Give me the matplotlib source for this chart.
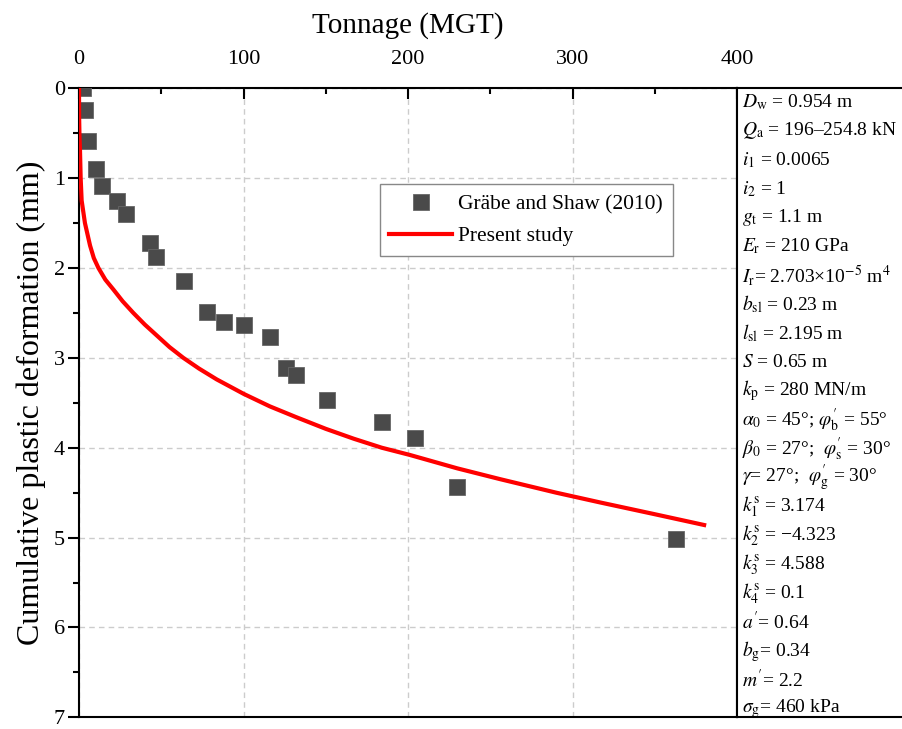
import matplotlib.pyplot as plt
from matplotlib.ticker import MultipleLocator

plt.rcParams['font.family'] = ['Liberation Serif', 'DejaVu Serif']
plt.rcParams['mathtext.fontset'] = 'stix'

# measured points (Gräbe and Shaw 2010)
test_x = [2.6, 3.6, 5.7, 10.3, 13.8, 22.9, 28.4, 43.2, 46.6, 64, 78, 88, 100, 116, 126, 132, 151, 184, 204, 230, 363]
test_y = [0.0, 0.24, 0.59, 0.9, 1.09, 1.25, 1.4, 1.72, 1.88, 2.15, 2.49, 2.6, 2.64, 2.77, 3.11, 3.19, 3.47, 3.71, 3.89, 4.44, 5.02]

# present study curve
model_x = [0, 0.05, 0.3, 0.6, 1.0, 1.6, 3.6, 6.7, 9, 11.8, 16, 20.9, 26.5, 33, 40, 47.2, 55, 63.4, 73, 83.7, 100,
           116, 132, 150, 167, 184, 201, 230, 256, 290, 317, 350, 380]
model_y = [0, 0.3, 0.55, 0.69, 1.0, 1.25, 1.5, 1.75, 1.89, 2.0, 2.13, 2.24, 2.37, 2.5, 2.63, 2.75, 2.88, 3.0, 3.12, 3.24, 3.40,
           3.54, 3.66, 3.79, 3.90, 4.0, 4.08, 4.23, 4.35, 4.50, 4.61, 4.74, 4.86]

params = [
    r'$D_\mathrm{w}$ = 0.954 m',
    r'$Q_\mathrm{a}$ = 196–254.8 kN',
    r'$i_1$ = 0.0065',
    r'$i_2$ = 1',
    r'$g_\mathrm{t}$ = 1.1 m',
    r'$E_\mathrm{r}$ = 210 GPa',
    r'$I_\mathrm{r}$= 2.703×10$^{-5}$ m$^4$',
    r'$b_\mathrm{sl}$ = 0.23 m',
    r'$l_\mathrm{sl}$ = 2.195 m',
    r'$S$ = 0.65 m',
    r'$k_\mathrm{p}$ = 280 MN/m',
    r'$\alpha_0$ = 45°; $\varphi_\mathrm{b}^{\prime}$ = 55°',
    r'$\beta_0$ = 27°;  $\varphi_\mathrm{s}^{\prime}$ = 30°',
    r'$\gamma$= 27°;  $\varphi_\mathrm{g}^{\prime}$ = 30°',
    r'$k^\mathrm{s}_1$ = 3.174',
    r'$k^\mathrm{s}_2$ = −4.323',
    r'$k^\mathrm{s}_3$ = 4.588',
    r'$k^\mathrm{s}_4$ = 0.1',
    r'$a^{\prime}$= 0.64',
    r'$b_\mathrm{g}$= 0.34',
    r'$m^{\prime}$= 2.2',
    r'$\sigma_\mathrm{g}$= 460 kPa',
]

fig = plt.figure(figsize=(9.03, 7.29), dpi=100)
ax = fig.add_axes([0.0875, 0.016, 0.7287, 0.863])

ax.plot(test_x, test_y, 's', color='#4a4a4a', markersize=11.5, markeredgecolor='#666666',
        markeredgewidth=0.6, label='Gräbe and Shaw (2010)', zorder=3)
ax.plot(model_x, model_y, '-', color='#ff0000', linewidth=3, label='Present study', zorder=4)

ax.set_xlim(0, 400)
ax.set_ylim(7, 0)
ax.xaxis.tick_top()
ax.xaxis.set_label_position('top')
ax.xaxis.set_major_locator(MultipleLocator(100))
ax.xaxis.set_minor_locator(MultipleLocator(50))
ax.yaxis.set_major_locator(MultipleLocator(1))
ax.yaxis.set_minor_locator(MultipleLocator(0.5))
ax.tick_params(axis='x', which='major', direction='in', length=8, width=1.5, labelsize=16, pad=14)
ax.tick_params(axis='x', which='minor', direction='in', length=4, width=1.5)
ax.tick_params(axis='y', which='major', direction='out', length=8, width=1.5, labelsize=16, pad=2)
ax.tick_params(axis='y', which='minor', direction='out', length=4, width=1.5)
for s in ax.spines.values():
    s.set_linewidth(1.5)

ax.grid(True, which='major', linestyle=(0, (4, 3)), color='#cccccc', linewidth=1)
ax.set_xlabel('Tonnage (MGT)', fontsize=21, labelpad=12)
ax.set_ylabel('Cumulative plastic deformation (mm)', fontsize=23, labelpad=6)

ax.legend(loc='upper left', bbox_to_anchor=(0.457, 0.847), fontsize=15.5, frameon=True,
          fancybox=False, edgecolor='#888888', framealpha=1, handlelength=2.9,
          handletextpad=0.3, borderpad=0.45, labelspacing=0.55, borderaxespad=0)

# parameter box on the right
box = fig.add_axes([0.8163, 0.016, 0.3, 0.863])
box.set_xticks([])
box.set_yticks([])
for s in box.spines.values():
    s.set_linewidth(1.5)

y0 = 1 - 102 / 729
step = 28.9 / 729
for i, t in enumerate(params):
    fig.text(742 / 903, y0 - i * step, t, fontsize=14, va='center', ha='left')

fig.savefig('out.png', dpi=100)
